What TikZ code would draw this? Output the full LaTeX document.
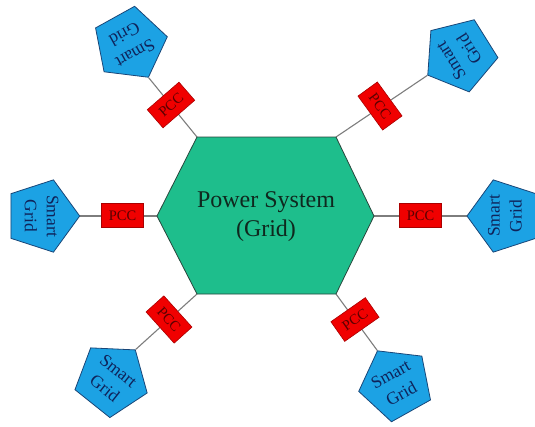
\documentclass[tikz,border=0pt]{standalone}
\usepackage{fontspec}
\setmainfont{Liberation Serif}
\usetikzlibrary{shapes.geometric,backgrounds}
\definecolor{hexfill}{RGB}{30,190,140}
\definecolor{hexdraw}{RGB}{40,70,60}
\definecolor{hextext}{RGB}{15,40,30}
\definecolor{pentfill}{RGB}{28,162,228}
\definecolor{pentdraw}{RGB}{25,70,120}
\definecolor{pentext}{RGB}{15,35,90}
\definecolor{pccfill}{RGB}{240,0,0}
\definecolor{pccdraw}{RGB}{170,0,0}
\definecolor{pcctext}{RGB}{90,0,0}
\definecolor{linkgray}{RGB}{125,125,125}
\begin{document}
\begin{tikzpicture}[x=1pt,y=-1pt,
  pent/.style={regular polygon, regular polygon sides=5, minimum size=76pt, inner sep=0pt,
    fill=pentfill, draw=pentdraw, line width=0.8pt},
  pentxt/.style={font=\fontsize{17.5}{22}\selectfont, text=pentext, align=center, inner sep=0pt},
  pccbox/.style={rectangle, minimum width=42pt, minimum height=24pt, inner sep=0pt,
    fill=pccfill, draw=pccdraw, line width=0.6pt, font=\fontsize{14.5}{16}\selectfont, text=pcctext},
  hexstyle/.style={fill=hexfill, draw=hexdraw, line width=0.8pt},
  hextxt/.style={font=\fontsize{24}{29}\selectfont, text=hextext, align=center, inner sep=0pt},
  link/.style={draw=linkgray, line width=1.1pt}]
\useasboundingbox (0,0) rectangle (535,426);
% hub hexagon
\coordinate (h1) at (197,137);
\coordinate (h2) at (336,137);
\coordinate (h3) at (374,216);
\coordinate (h4) at (336,294);
\coordinate (h5) at (197,294);
\coordinate (h6) at (157,216);
\draw[hexstyle] (h1) -- (h2) -- (h3) -- (h4) -- (h5) -- (h6) -- cycle;
\node[hextxt] (hub) at (266,217) {Power System\\(Grid)};
% smart grids
\node[pent, rotate=-151] (sgTL) at (130,44) {};
\node[pentxt, rotate=-151] (tTL) at (sgTL) {Smart\\Grid};
\node[pent, rotate=122] (sgTR) at (460,55) {};
\node[pentxt, rotate=122] (tTR) at (sgTR) {Smart\\Grid};
\node[pent, rotate=-90] (sgL) at (41.7,216) {};
\node[pentxt, rotate=-90] (tL) at (sgL) {Smart\\Grid};
\node[pent, rotate=90] (sgR) at (505,216) {};
\node[pentxt, rotate=90] (tR) at (sgR) {Smart\\Grid};
\node[pent, rotate=-38.6] (sgBL) at (111.6,379.6) {};
\node[pentxt, rotate=-38.6] (tBL) at (sgBL) {Smart\\Grid};
\node[pent, rotate=29.2] (sgBR) at (396,384) {};
\node[pentxt, rotate=29.2] (tBR) at (sgBR) {Smart\\Grid};
% PCC boxes
\node[pccbox, rotate=41] (pTL) at (171,105) {PCC};
\node[pccbox, rotate=-54] (pTR) at (380,106) {PCC};
\node[pccbox] (pL) at (122.5,215.5) {PCC};
\node[pccbox] (pR) at (420.5,215.5) {PCC};
\node[pccbox, rotate=-48] (pBL) at (169,319.5) {PCC};
\node[pccbox, rotate=35] (pBR) at (355,319.5) {PCC};
% connectors
\begin{pgfonlayer}{background}
\draw[link] (h1) -- (sgTL.corner 1);
\draw[link] (h2) -- (sgTR.corner 1);
\draw[link] (h6) -- (sgL.corner 1);
\draw[link] (h3) -- (sgR.corner 1);
\draw[link] (h5) -- (sgBL.corner 1);
\draw[link] (h4) -- (sgBR.corner 1);
\end{pgfonlayer}
\end{tikzpicture}
\end{document}
